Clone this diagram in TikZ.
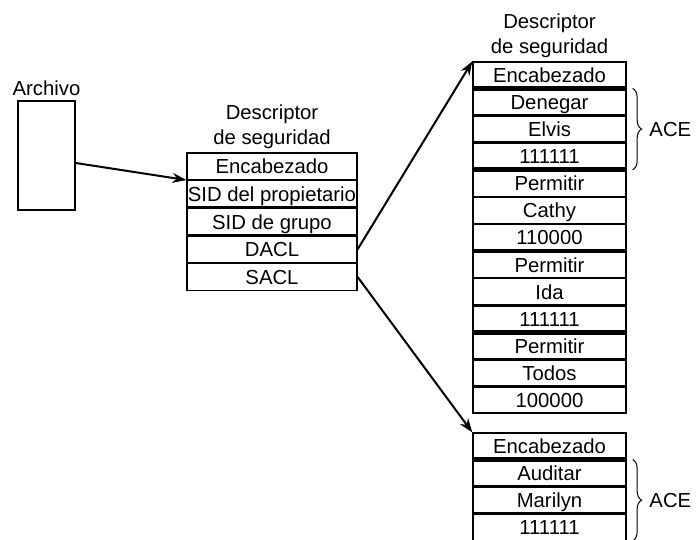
\documentclass[tikz,border=0pt]{standalone}
\usepackage{fontspec}
\setmainfont{Liberation Sans}
\usetikzlibrary{positioning}
\usetikzlibrary{arrows.meta}
\usetikzlibrary{decorations.pathreplacing}

\begin{document}
\begin{tikzpicture}[x=1pt, y=1pt, >={Stealth[length=14pt,width=10pt]},
    every node/.style={font=\fontsize{20.3}{25.5}\selectfont},
    cell/.style={rectangle, draw, line width=1.3pt, inner sep=0pt, text height=17pt, text depth=2pt,
        minimum width=170pt, minimum height=26.4pt},
    acecell/.style={cell, minimum width=153pt, minimum height=25.8pt},
    sep/.style={line width=4.5pt},
    ptr/.style={->, line width=2pt},
    ace/.style={decorate, decoration={brace, amplitude=9pt}, line width=1pt}]

    \useasboundingbox (0,0) rectangle (697,539);

    % File
    \node[draw, line width=1.6pt, minimum width=57pt, minimum height=109pt] (file) at (46.5,383.5) {};
    \node[above=1pt of file] (filelbl) {Archivo};

    % Security descriptor
    \node[cell] (enc) at (272,372.8) {Encabezado};
    \node[cell, below=0pt of enc] (owner) {SID del propietario};
    \node[cell, below=0pt of owner] (group) {SID de grupo};
    \node[cell, below=0pt of group] (dacl) {DACL};
    \node[cell, below=0pt of dacl] (sacl) {SACL};
    \node[above=0pt of enc, align=center] (sdlbl) {Descriptor\\de seguridad};
    \draw[ptr] ([yshift=-7.5pt]file.east) -- (enc.south west);

    % DACL
    \node[acecell] (dhdr) at (549.5,464.1) {Encabezado};
    \node[acecell, below=0pt of dhdr] (deny) {Denegar};
    \node[acecell, below=0pt of deny] (elvis) {Elvis};
    \node[acecell, below=0pt of elvis] (maska) {111111};
    \node[acecell, below=0pt of maska] (allowa) {Permitir};
    \node[acecell, below=0pt of allowa] (cathy) {Cathy};
    \node[acecell, below=0pt of cathy] (maskb) {110000};
    \node[acecell, below=0pt of maskb] (allowb) {Permitir};
    \node[acecell, below=0pt of allowb] (ida) {Ida};
    \node[acecell, below=0pt of ida] (maskc) {111111};
    \node[acecell, below=0pt of maskc] (allowc) {Permitir};
    \node[acecell, below=0pt of allowc] (todos) {Todos};
    \node[acecell, below=0pt of todos] (maskd) {100000};
    \node[above=0pt of dhdr, align=center] (dacllbl) {Descriptor\\de seguridad};
    \foreach \r in {deny, allowa, allowb, allowc}
        \draw[sep] (\r.north west) -- (\r.north east);
    \draw[ace] ([xshift=6pt]deny.north east) -- ([xshift=6pt]maska.south east)
        node[midway, right=13pt] (acea) {ACE};

    % SACL
    \node[acecell] (shdr) at (549.5,93) {Encabezado};
    \node[acecell, below=0pt of shdr] (audit) {Auditar};
    \node[acecell, below=0pt of audit] (marilyn) {Marilyn};
    \node[acecell, below=0pt of marilyn] (maske) {111111};
    \draw[sep] (audit.north west) -- (audit.north east);
    \draw[ace] ([xshift=6pt]audit.north east) -- ([xshift=6pt]maske.south east)
        node[midway, right=13pt] (aceb) {ACE};

    % Pointers
    \draw[ptr] (dacl.east) -- (dhdr.north west);
    \draw[ptr] (sacl.east) -- (shdr.north west);
\end{tikzpicture}
\end{document}
